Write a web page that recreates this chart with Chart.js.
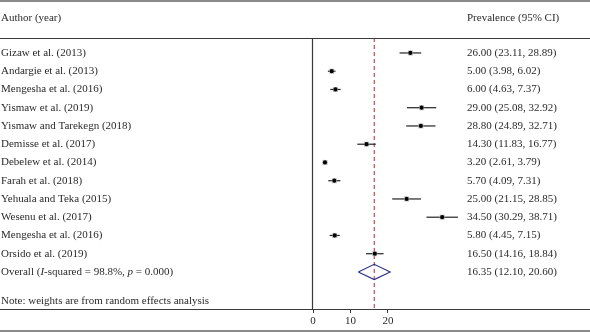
<!DOCTYPE html>
<html>
<head>
<meta charset="utf-8">
<script src="https://cdn.jsdelivr.net/npm/chart.js@4"></script>
<style>
html,body{margin:0;padding:0;background:#fff;}
canvas{display:block;}
</style>
</head>
<body>
<canvas id="c" width="590" height="332"></canvas>
<script>
const studies = ["Gizaw et al. (2013)","Andargie et al. (2013)","Mengesha et al. (2016)","Yismaw et al. (2019)","Yismaw and Tarekegn (2018)","Demisse et al. (2017)","Debelew et al. (2014)","Farah et al. (2018)","Yehuala and Teka (2015)","Wesenu et al. (2017)","Mengesha et al. (2016)","Orsido et al. (2019)"];
const estimates = [26.00,5.00,6.00,29.00,28.80,14.30,3.20,5.70,25.00,34.50,5.80,16.50];
const lower = [23.11,3.98,4.63,25.08,24.89,11.83,2.61,4.09,21.15,30.29,4.45,14.16];
const upper = [28.89,6.02,7.37,32.92,32.71,16.77,3.79,7.31,28.85,38.71,7.15,18.84];
const overall = {est:16.35, lo:12.10, hi:20.60};
const overallLabel = [["Overall (",false],["I",true],["-squared = 98.8%, ",false],["p",true],[" = 0.000)",false]];
const xTicks = [0,10,20];
const headerLeft = "Author (year)";
const headerRight = "Prevalence (95% CI)";
const note = "Note: weights are from random effects analysis";

const nRows = studies.length + 1;
const fmt = v => v.toFixed(2);
const FONT = '"Liberation Serif", "DejaVu Serif", serif';
const YMIN = -0.82, YMAX = 14.03;

const ciSets = studies.map((s,i)=>({
  type:'line', label:'ci'+i,
  data:[{x:lower[i],y:i},{x:upper[i],y:i}],
  borderColor:'#222', borderWidth:1.2, pointRadius:0, showLine:true, order:3
}));

const datasets = [
  {type:'line', label:'ref', data:[{x:overall.est,y:YMIN},{x:overall.est,y:YMAX}],
   borderColor:'#9b3535', borderWidth:1, borderDash:[4,3], pointRadius:0, showLine:true, order:5},
  ...ciSets,
  {type:'scatter', label:'box', data:estimates.map((v,i)=>({x:v,y:i})),
   pointStyle:'rect', pointRadius:3.6, backgroundColor:'#c4c4c4', borderWidth:0, order:2},
  {type:'scatter', label:'pt', data:estimates.map((v,i)=>({x:v,y:i})),
   pointStyle:'circle', pointRadius:2.1, backgroundColor:'#000', borderWidth:0, order:1},
  {type:'line', label:'diamond', data:[
     {x:overall.lo,y:studies.length},{x:overall.est,y:studies.length-0.42},
     {x:overall.hi,y:studies.length},{x:overall.est,y:studies.length+0.42},
     {x:overall.lo,y:studies.length}],
   borderColor:'#2b2f86', borderWidth:1.1, pointRadius:0, showLine:true, fill:false, tension:0, order:1}
];

const textPlugin = {
  id:'forestText',
  afterDraw(chart){
    const ctx = chart.ctx, y = chart.scales.y, x = chart.scales.x;
    const W = chart.width;
    ctx.save();
    // rules
    ctx.strokeStyle='#8a8a8a'; ctx.lineWidth=2;
    ctx.beginPath(); ctx.moveTo(0,1); ctx.lineTo(W,1); ctx.stroke();
    ctx.beginPath(); ctx.moveTo(0,331); ctx.lineTo(W,331); ctx.stroke();
    ctx.strokeStyle='#3a3a3a'; ctx.lineWidth=1.2;
    const top = chart.chartArea.top, bot = chart.chartArea.bottom;
    ctx.beginPath(); ctx.moveTo(0,top+0.5); ctx.lineTo(W,top+0.5); ctx.stroke();
    ctx.beginPath(); ctx.moveTo(0,bot+0.5); ctx.lineTo(W,bot+0.5); ctx.stroke();
    const x0 = Math.round(x.getPixelForValue(0)) - 0.5;
    ctx.beginPath(); ctx.moveTo(x0,top); ctx.lineTo(x0,bot); ctx.stroke();
    // text
    ctx.fillStyle='#2a2a2a';
    ctx.textBaseline='middle';
    ctx.font='11px '+FONT;
    ctx.textAlign='left';
    ctx.fillText(headerLeft,1,18);
    ctx.fillText(headerRight,467,18);
    studies.forEach((s,i)=>{
      const py = y.getPixelForValue(i);
      ctx.fillText(s,1,py);
      ctx.fillText(fmt(estimates[i])+' ('+fmt(lower[i])+', '+fmt(upper[i])+')',467,py);
    });
    const oy = y.getPixelForValue(studies.length);
    let cx = 1;
    overallLabel.forEach(([t,it])=>{
      ctx.font=(it?'italic ':'')+'11px '+FONT;
      ctx.fillText(t,cx,oy);
      cx += ctx.measureText(t).width;
    });
    ctx.font='11px '+FONT;
    ctx.fillText(fmt(overall.est)+' ('+fmt(overall.lo)+', '+fmt(overall.hi)+')',467,oy);
    ctx.fillText(note,1,301);
    ctx.restore();
  }
};

new Chart(document.getElementById('c'),{
  type:'scatter',
  data:{datasets},
  options:{
    responsive:false, animation:false,
    layout:{padding:{left:313,right:0,top:38,bottom:0}},
    plugins:{legend:{display:false},tooltip:{enabled:false}},
    scales:{
      x:{type:'linear', min:0, max:72.9,
         afterBuildTicks(s){ s.ticks = xTicks.map(v=>({value:v})); },
         afterFit(s){ s.height = 23; },
         border:{display:false},
         grid:{drawOnChartArea:false, drawTicks:true, tickLength:4, color:'#3a3a3a', lineWidth:1},
         ticks:{font:{family:FONT,size:11}, color:'#2a2a2a', padding:2, maxRotation:0, autoSkip:false}},
      y:{type:'linear', reverse:true, min:YMIN, max:YMAX, display:false}
    }
  },
  plugins:[textPlugin]
});
</script>
</body>
</html>
